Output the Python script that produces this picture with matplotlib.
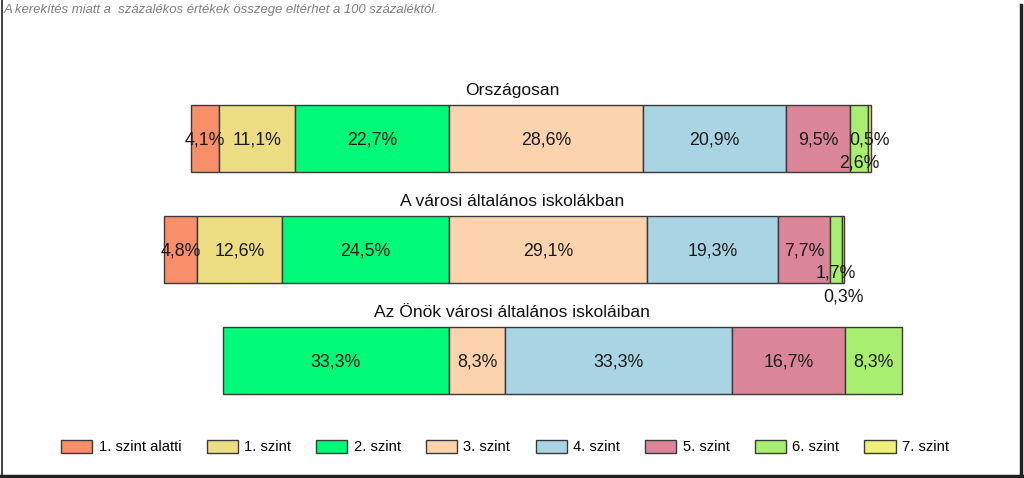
import matplotlib
matplotlib.use("Agg")
import matplotlib.pyplot as plt
from matplotlib.patches import Patch
from matplotlib.lines import Line2D
import numpy as np

plt.rcParams['font.family'] = ['Liberation Sans', 'DejaVu Sans']

groups = ["Országosan", "A városi általános iskolákban", "Az Önök városi általános iskoláiban"]
levels = ["1. szint alatti", "1. szint", "2. szint", "3. szint",
          "4. szint", "5. szint", "6. szint", "7. szint"]
values = [
    [4.1, 11.1, 22.7, 28.6, 20.9, 9.5, 2.6, 0.5],
    [4.8, 12.6, 24.5, 29.1, 19.3, 7.7, 1.7, 0.3],
    [0.0, 0.0, 33.3, 8.3, 33.3, 16.7, 8.3, 0.0],
]
note = "A kerekítés miatt a  százalékos értékek összege eltérhet a 100 százaléktól."

colors = ["#F98E6A", "#ECDD82", "#00FA78", "#FDD3AE",
          "#A8D4E4", "#DA8698", "#A8EE70", "#EEEE78"]
edge = "#3a3a3a"
# vertical offsets of the value labels for small segments (style only)
label_dy = {(0, 6): 0.21, (1, 6): 0.20, (1, 7): 0.42}

W, H = 1024, 478
fig = plt.figure(figsize=(W / 100, H / 100), dpi=100)
ax = fig.add_axes([0, 0, 1, 1])
ax.set_axis_off()

pxu = 6.8            # pixels per percent
x0 = 449             # pixel of the 2./3. szint boundary
ax.set_xlim(-x0 / pxu, (W - x0) / pxu)
ypu = 110.75         # pixels per bar step
yc0 = 138.5
ax.set_ylim((H - yc0) / ypu, -yc0 / ypu)

bar_h = 67 / ypu
for i, vals in enumerate(values):
    left = -sum(vals[:3])
    for j, v in enumerate(vals):
        if v > 0:
            ax.barh(i, v, left=left, height=bar_h, color=colors[j],
                    edgecolor=edge, linewidth=1.0)
            ax.text(left + v / 2, i + label_dy.get((i, j), 0.0) + 0.015,
                    f"{v:.1f}".replace(".", ",") + "%",
                    ha="center", va="center", fontsize=12.8, color="#1a1a1a")
        left += v
    ax.text((512 - x0) / pxu, i - 0.433, groups[i], ha="center", va="center",
            fontsize=12.6, color="#111111")

handles = [Patch(facecolor=c, edgecolor=edge, linewidth=1.0) for c in colors]
fig.legend(handles, levels, loc="center", ncol=8, frameon=False,
           bbox_to_anchor=(505 / W, 1 - 447 / H), fontsize=10.6,
           handlelength=2.12, handleheight=0.96, handletextpad=0.42,
           columnspacing=1.72, borderpad=0)

fig.text(4 / W, 1 - 10 / H, note, ha="left", va="center", fontsize=9.45,
         style="italic", color="#808080")

# frame
fig.add_artist(Line2D([1.5 / W, 1.5 / W], [0, 1], color="#222222", lw=1.2,
                      transform=fig.transFigure))
fig.add_artist(Line2D([1020.5 / W, 1020.5 / W], [0, 1 - 5 / H], color="#222222", lw=2.5,
                      transform=fig.transFigure))
fig.add_artist(Line2D([0, 1022 / W], [2.5 / H, 2.5 / H], color="#222222", lw=2.5,
                      transform=fig.transFigure))

fig.savefig("out.png", dpi=100)
